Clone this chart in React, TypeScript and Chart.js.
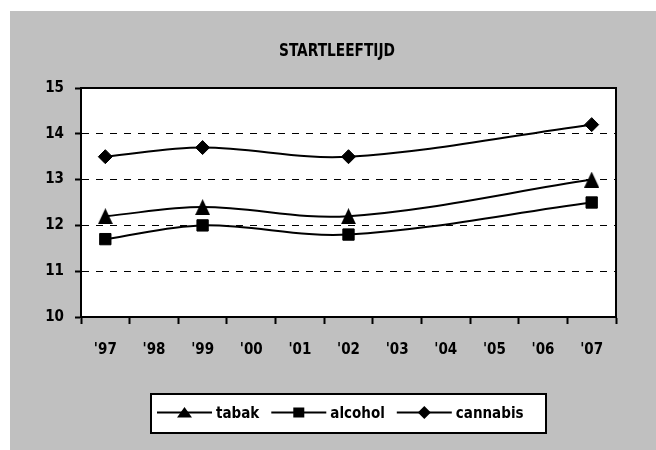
import React, { useEffect, useRef } from "react";
import { Chart, registerables } from "chart.js";

Chart.register(...registerables);

// ---- data ----
const TITLE = "STARTLEEFTIJD";
const years = ["'97", "'98", "'99", "'00", "'01", "'02", "'03", "'04", "'05", "'06", "'07"];
const tabak = [12.2, null, 12.4, null, null, 12.2, null, null, null, null, 13.0];
const alcohol = [11.7, null, 12.0, null, null, 11.8, null, null, null, null, 12.5];
const cannabis = [13.5, null, 13.7, null, null, 13.5, null, null, null, null, 14.2];
const seriesNames = ["tabak", "alcohol", "cannabis"];
const yMin = 10;
const yMax = 15;
const yStep = 1;

// ---- style ----
const FONT = "'DejaVu Sans Condensed', 'DejaVu Sans', sans-serif";
const W = 646;
const H = 439;
const GRAY = "#c0c0c0";

function makeTriangle(w: number, h: number) {
  const c = document.createElement("canvas");
  c.width = w;
  c.height = h;
  const g = c.getContext("2d")!;
  g.fillStyle = "#000";
  g.beginPath();
  g.moveTo(w / 2, 0);
  g.lineTo(w, h);
  g.lineTo(0, h);
  g.closePath();
  g.fill();
  return c;
}

function drawMarker(ctx: CanvasRenderingContext2D, kind: string, x: number, y: number) {
  ctx.fillStyle = "#000";
  ctx.beginPath();
  if (kind === "triangle") {
    ctx.moveTo(x, y - 5.5);
    ctx.lineTo(x + 7.5, y + 5);
    ctx.lineTo(x - 7.5, y + 5);
    ctx.closePath();
  } else if (kind === "rect") {
    ctx.rect(x - 5.5, y - 5, 11, 10);
  } else {
    ctx.moveTo(x, y - 6.5);
    ctx.lineTo(x + 6.5, y);
    ctx.lineTo(x, y + 6.5);
    ctx.lineTo(x - 6.5, y);
    ctx.closePath();
  }
  ctx.fill();
}

const legendKinds = ["triangle", "rect", "diamond"];

const decoPlugin = {
  id: "deco",
  beforeDraw(chart: any) {
    const { ctx, chartArea: a } = chart;
    ctx.save();
    ctx.fillStyle = GRAY;
    ctx.fillRect(0, 0, chart.width, chart.height);
    ctx.fillStyle = "#fff";
    ctx.fillRect(a.left, a.top, a.right - a.left, a.bottom - a.top);
    ctx.restore();
  },
  afterDraw(chart: any) {
    const { ctx, chartArea: a } = chart;
    ctx.save();
    // plot frame top/right
    ctx.strokeStyle = "#000";
    ctx.lineWidth = 2;
    ctx.beginPath();
    ctx.moveTo(a.left - 1, a.top);
    ctx.lineTo(a.right, a.top);
    ctx.lineTo(a.right, a.bottom + 1);
    ctx.stroke();

    // title
    ctx.fillStyle = "#000";
    ctx.font = `bold 18px ${FONT}`;
    ctx.textAlign = "center";
    ctx.textBaseline = "alphabetic";
    const tw = ctx.measureText(TITLE).width;
    ctx.save();
    ctx.translate(327, 45);
    ctx.scale(116 / tw, 1);
    ctx.fillText(TITLE, 0, 0);
    ctx.restore();

    // legend box
    const bx = 140, by = 382, bw = 397, bh = 41;
    ctx.fillStyle = "#fff";
    ctx.fillRect(bx, by, bw, bh);
    ctx.lineWidth = 2;
    ctx.strokeStyle = "#000";
    ctx.strokeRect(bx + 1, by + 1, bw - 2, bh - 2);

    ctx.font = `bold 15px ${FONT}`;
    ctx.textAlign = "left";
    const cy = 401.5;
    let x = 147;
    chart.data.datasets.forEach((ds: any, i: number) => {
      ctx.strokeStyle = "#000";
      ctx.lineWidth = 2;
      ctx.beginPath();
      ctx.moveTo(x, cy);
      ctx.lineTo(x + 55, cy);
      ctx.stroke();
      drawMarker(ctx, legendKinds[i], x + 27.5, cy);
      ctx.fillStyle = "#000";
      ctx.fillText(ds.label, x + 59, 407);
      x += 59 + ctx.measureText(ds.label).width + 12;
    });
    ctx.restore();
  },
};

export default function App() {
  const ref = useRef<HTMLCanvasElement | null>(null);

  useEffect(() => {
    if (!ref.current) return;
    const tri = makeTriangle(15, 16);
    const common = {
      borderColor: "#000",
      backgroundColor: "#000",
      pointBackgroundColor: "#000",
      pointBorderColor: "#000",
      pointBorderWidth: 1,
      borderWidth: 2,
      tension: 0.35,
      spanGaps: true,
      fill: false,
    };
    const chart = new Chart(ref.current, {
      type: "line",
      data: {
        labels: years,
        datasets: [
          { ...common, label: seriesNames[0], data: tabak, pointStyle: tri as any, pointRadius: 8 },
          { ...common, label: seriesNames[1], data: alcohol, pointStyle: "rect", pointRadius: 8 },
          { ...common, label: seriesNames[2], data: cannabis, pointStyle: "rectRot", pointRadius: 7 },
        ],
      },
      options: {
        animation: false,
        responsive: false,
        maintainAspectRatio: false,
        devicePixelRatio: 1,
        events: [],
        layout: { padding: { left: 0, top: 77, right: 40, bottom: 0 } },
        plugins: {
          legend: { display: false },
          title: { display: false },
          tooltip: { enabled: false },
        },
        scales: {
          x: {
            type: "category",
            offset: true,
            grid: {
              offset: true,
              drawOnChartArea: false,
              drawTicks: true,
              tickLength: 7,
              tickWidth: 2,
              tickColor: "#000",
            },
            border: { display: true, color: "#000", width: 2 },
            ticks: {
              color: "#000",
              padding: 17,
              maxRotation: 0,
              autoSkip: false,
              font: { family: FONT, size: 15, weight: "bold" },
            },
            afterFit(scale: any) {
              scale.height = 133;
              scale.paddingLeft = 0;
              scale.paddingRight = 0;
              scale.paddingTop = 0;
              scale.paddingBottom = 0;
            },
          },
          y: {
            min: yMin,
            max: yMax,
            grid: {
              color: "#000",
              lineWidth: 1,
              drawTicks: true,
              tickLength: 6,
              tickWidth: 2,
              tickColor: "#000",
            },
            border: { display: true, color: "#000", width: 2, dash: [7, 7] },
            ticks: {
              stepSize: yStep,
              color: "#000",
              padding: 11,
              font: { family: FONT, size: 15, weight: "bold" },
            },
            afterFit(scale: any) {
              scale.width = 71;
              scale.paddingLeft = 0;
              scale.paddingRight = 0;
              scale.paddingTop = 0;
              scale.paddingBottom = 0;
            },
          },
        },
      },
      plugins: [decoPlugin],
    } as any);
    return () => chart.destroy();
  }, []);

  return (
    <div style={{ position: "fixed", left: 10, top: 11, width: W, height: H }}>
      <canvas ref={ref} width={W} height={H} style={{ display: "block", width: W, height: H }} />
    </div>
  );
}
